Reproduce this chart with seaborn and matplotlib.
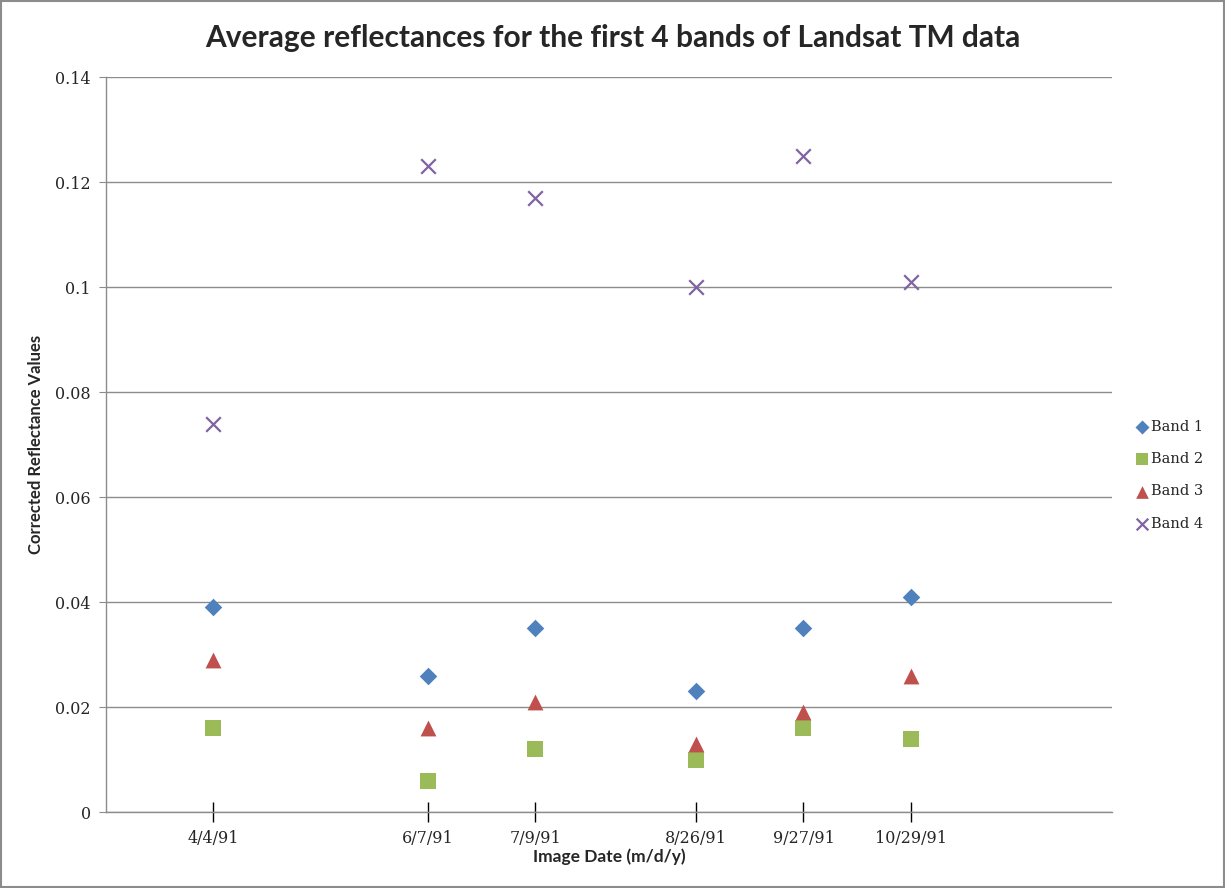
import matplotlib
matplotlib.use("Agg")
import matplotlib.pyplot as plt
import seaborn as sns
import pandas as pd
import numpy as np
from matplotlib.patches import Rectangle

dates = ["1991-04-04", "1991-06-07", "1991-07-09", "1991-08-26", "1991-09-27", "1991-10-29"]
date_labels = ["4/4/91", "6/7/91", "7/9/91", "8/26/91", "9/27/91", "10/29/91"]
band1 = [0.039, 0.026, 0.035, 0.023, 0.035, 0.041]
band2 = [0.016, 0.006, 0.012, 0.010, 0.016, 0.014]
band3 = [0.029, 0.016, 0.021, 0.013, 0.019, 0.026]
band4 = [0.074, 0.123, 0.117, 0.100, 0.125, 0.101]
series_names = ["Band 1", "Band 2", "Band 3", "Band 4"]
y_ticks = [0, 0.02, 0.04, 0.06, 0.08, 0.1, 0.12, 0.14]
y_tick_labels = ["0", "0.02", "0.04", "0.06", "0.08", "0.1", "0.12", "0.14"]

colors = ["#4F81BD", "#9BBB59", "#C0504D", "#8064A2"]
markers = ["D", "s", "^", "x"]
sizes = [80, 120, 130, 110]

dt = pd.to_datetime(dates)
frames = []
for name, vals in zip(series_names, [band1, band2, band3, band4]):
    frames.append(pd.DataFrame({"date": dt, "value": vals, "band": name}))
df = pd.concat(frames, ignore_index=True)

sns.set_style("white")
fig = plt.figure(figsize=(12.25, 8.88), dpi=100)
ax = fig.add_axes([106/1225, (888-812)/888, (1112-106)/1225, (812-77)/888])

for name, c, m, s in zip(series_names, colors, markers, sizes):
    sub = df[df["band"] == name]
    kw = dict(color=c, marker=m, s=s, ax=ax, label=name)
    if m == "x":
        kw.update(linewidth=1.6)
    else:
        kw.update(linewidth=0)
    sns.scatterplot(data=sub, x="date", y="value", **kw)

ax.set_ylim(0, 0.14)
ax.set_xlim(pd.Timestamp("1991-03-03"), pd.Timestamp("1991-12-28"))
ax.set_yticks(y_ticks)
ax.set_yticklabels(y_tick_labels, family="DejaVu Serif", fontsize=11.5)
ax.set_xticks(dt)
ax.set_xticklabels(date_labels, family="DejaVu Serif", fontsize=11.5)
ax.grid(axis="y", color="#8c8c8c", linewidth=1)
ax.set_axisbelow(True)
for sp in ["top", "right"]:
    ax.spines[sp].set_visible(False)
for sp in ["left", "bottom"]:
    ax.spines[sp].set_color("#8c8c8c")
    ax.spines[sp].set_linewidth(1)
ax.tick_params(axis="y", which="major", left=True, length=5, color="#8c8c8c", direction="out", pad=6)
ax.tick_params(axis="x", which="major", bottom=True, length=14, color="black", direction="inout", width=1, pad=6)

ax.set_xlabel("Image Date (m/d/y)", family="Lato", fontweight="bold", fontsize=12.5, labelpad=1)
ax.set_ylabel("Corrected Reflectance Values", family="Lato", fontweight="bold", fontsize=12, labelpad=8)

fig.suptitle("Average reflectances for the first 4 bands of Landsat TM data",
             family="Lato", fontweight="bold", fontsize=21.5, y=0.973, x=0.5)

leg = ax.legend(loc="center left", bbox_to_anchor=(1.010, 0.458), frameon=False,
                prop={"family": "DejaVu Serif", "size": 10.5}, handletextpad=0.1,
                labelspacing=1.25, handlelength=1.0, markerscale=0.8)

fig.patches.append(Rectangle((0.001, 0.001), 0.998, 0.998, transform=fig.transFigure,
                             fill=False, edgecolor="#8c8c8c", linewidth=1.5))

fig.savefig("out.png", dpi=100)
